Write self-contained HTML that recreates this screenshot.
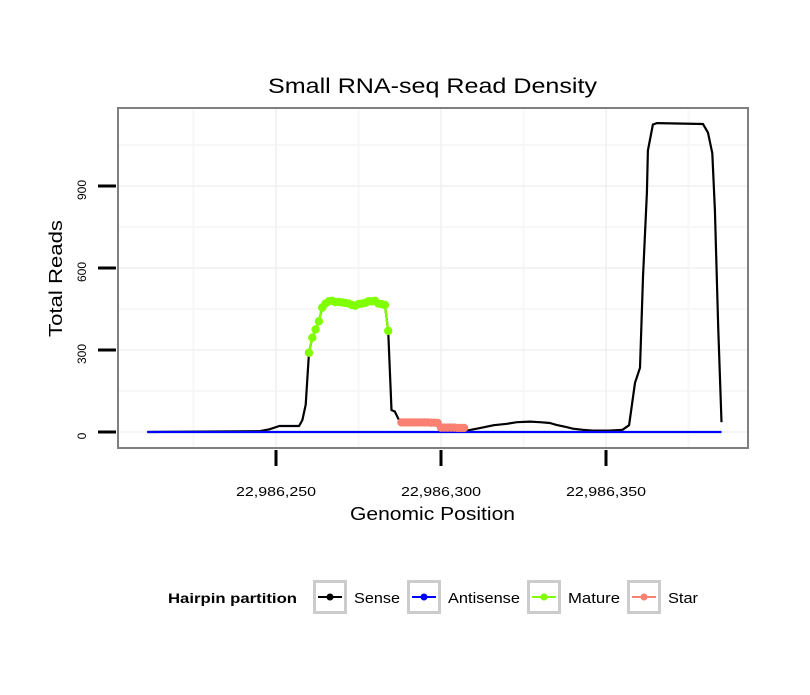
<!DOCTYPE html>
<html><head><meta charset="utf-8"><style>
body{margin:0;background:#fff;font-family:"Liberation Sans",sans-serif}
svg text{font-family:"Liberation Sans",sans-serif}
</style></head><body>
<svg id="chart" width="810" height="690" viewBox="0 0 810 690">
<rect width="810" height="690" fill="#fff"/>
<text x="268" y="93" font-size="21" textLength="329" lengthAdjust="spacingAndGlyphs">Small RNA-seq Read Density</text>
<g id="grid"></g>
<g id="series"></g>
<rect x="118" y="108" width="630" height="340" fill="none" stroke="#7f7f7f" stroke-width="2"/>
<g id="axes"></g>
<text x="350" y="520" font-size="18" textLength="165" lengthAdjust="spacingAndGlyphs">Genomic Position</text>
<text transform="translate(62,337) rotate(-90)" font-size="18" textLength="117" lengthAdjust="spacingAndGlyphs">Total Reads</text>
<g>
<text x="168" y="603" font-size="14" font-weight="bold" textLength="129" lengthAdjust="spacingAndGlyphs">Hairpin partition</text>
<g><rect x="314.5" y="581.5" width="31" height="31" fill="#fff" stroke="#ccc" stroke-width="3"/><line x1="318" y1="597" x2="342" y2="597" stroke="#000" stroke-width="2"/><circle cx="330" cy="597" r="3.5" fill="#000"/><text x="354" y="603" font-size="15" textLength="46" lengthAdjust="spacingAndGlyphs">Sense</text></g>
<g><rect x="408.5" y="581.5" width="31" height="31" fill="#fff" stroke="#ccc" stroke-width="3"/><line x1="412" y1="597" x2="436" y2="597" stroke="#0000ff" stroke-width="2"/><circle cx="424" cy="597" r="3.5" fill="#0000ff"/><text x="448" y="603" font-size="15" textLength="72" lengthAdjust="spacingAndGlyphs">Antisense</text></g>
<g><rect x="528.5" y="581.5" width="31" height="31" fill="#fff" stroke="#ccc" stroke-width="3"/><line x1="532" y1="597" x2="556" y2="597" stroke="#7fff00" stroke-width="2"/><circle cx="544" cy="597" r="3.5" fill="#7fff00"/><text x="568" y="603" font-size="15" textLength="52" lengthAdjust="spacingAndGlyphs">Mature</text></g>
<g><rect x="628.5" y="581.5" width="31" height="31" fill="#fff" stroke="#ccc" stroke-width="3"/><line x1="632" y1="597" x2="656" y2="597" stroke="#fa8072" stroke-width="2"/><circle cx="644" cy="597" r="3.5" fill="#fa8072"/><text x="668" y="603" font-size="15" textLength="30" lengthAdjust="spacingAndGlyphs">Star</text></g>
</g>
</svg>
<script>
const xTicks=[22986250,22986300,22986350];
const xTickLabels=["22,986,250","22,986,300","22,986,350"];
const yTicks=[0,300,600,900];
const yTickLabels=["0","300","600","900"];
const senseX=[22986211,22986245,22986248,22986251,22986257,22986258,22986259,22986260,22986261,22986262,22986263,22986264,22986265,22986266,22986268,22986270,22986273,22986276,22986278,22986280,22986281,22986283,22986284,22986285,22986286,22986287,22986288,22986300,22986307.9,22986312,22986316,22986320,22986323,22986327,22986330,22986333,22986335,22986338,22986340,22986343,22986346,22986351,22986355,22986357,22986358.8,22986360.3,22986361.2,22986362.4,22986362.7,22986364.2,22986365.5,22986379.4,22986380.9,22986382.2,22986383,22986384,22986385];
const senseY=[0,3,10,22,22,44,100,290,345,375,405,455,470,478,475,474,465,470,478,480,470,465,370,80,75,50,30,25,5,15,25,30,36,38,36,33,26,18,12,8,5,5,8,25,180,235,567,875,1030,1125,1130,1127,1095,1020,812,384,36];
const antisenseX=[22986211,22986385];
const antisenseY=[0,0];
const matureX=[];for(let p=22986260;p<=22986284;p++)matureX.push(p);
const matureY=[290,345,375,405,455,470,478,480,475,476,474,472,470,465,462,468,470,472,478,478,480,470,468,465,370];
const starX=[];for(let p=22986288;p<=22986307;p++)starX.push(p);
const starY=[35,35,35,35,35,35,35,35,35,34,34,33,16,16,16,16,16,15,15,15];

const X=v=>276+(v-22986250)*3.3;
const Y=v=>432-v*82/300;
const NS="http://www.w3.org/2000/svg";
function mk(tag,attrs,parent){const e=document.createElementNS(NS,tag);for(const k in attrs)e.setAttribute(k,attrs[k]);parent.appendChild(e);return e;}
const grid=document.getElementById('grid'),series=document.getElementById('series'),axes=document.getElementById('axes');
mk('rect',{x:118,y:108,width:630,height:340,fill:'#fff'},grid);
for(let i=0;i<yTicks.length;i++){const v=yTicks[i]+150;const l=mk('line',{x1:118,x2:748,y1:Y(v),y2:Y(v),stroke:'#f7f7f7','stroke-width':2},grid);}
for(let i=-1;i<xTicks.length;i++){const v=(i<0?xTicks[0]-25:xTicks[i]+25);const l=mk('line',{x1:X(v),x2:X(v),y1:108,y2:448,stroke:'#f7f7f7','stroke-width':2},grid);}
for(const v of yTicks){const l=mk('line',{x1:118,x2:748,y1:Y(v),y2:Y(v),stroke:'#f0f0f0','stroke-width':1.5},grid);}
for(const v of xTicks){const l=mk('line',{x1:X(v),x2:X(v),y1:108,y2:448,stroke:'#f0f0f0','stroke-width':1.5},grid);}
function path(xs,ys,color,name){const d=xs.map((x,i)=>(i?'L':'M')+X(x).toFixed(1)+','+Y(ys[i]).toFixed(1)).join('');const p=mk('path',{d:d,fill:'none',stroke:color,'stroke-width':2.2,'stroke-linejoin':'round'},series);}
function dots(xs,ys,color,name){for(let i=0;i<xs.length;i++){const c=mk('circle',{cx:X(xs[i]),cy:Y(ys[i]),r:4.2,fill:color},series);}}
path(senseX,senseY,'#000','sense-line');
path(antisenseX,antisenseY,'#0000ff','antisense-line');
path(matureX,matureY,'#7fff00','mature-line');
dots(matureX,matureY,'#7fff00','mature-point');
path(starX,starY,'#fa8072','star-line');
dots(starX,starY,'#fa8072','star-point');
for(let i=0;i<yTicks.length;i++){const y=Y(yTicks[i]);const t=mk('line',{x1:98,x2:116,y1:y,y2:y,stroke:'#000','stroke-width':3},axes);
const tx=mk('text',{transform:`translate(86,${y+4}) rotate(-90)`,'font-size':12,'text-anchor':'middle'},axes);tx.textContent=yTickLabels[i];}
for(let i=0;i<xTicks.length;i++){const x=X(xTicks[i]);const t=mk('line',{x1:x,x2:x,y1:450,y2:466,stroke:'#000','stroke-width':3},axes);
const tx=mk('text',{x:x-40,y:496,'font-size':13,textLength:80,lengthAdjust:'spacingAndGlyphs'},axes);tx.textContent=xTickLabels[i];}
</script>
</body></html>
